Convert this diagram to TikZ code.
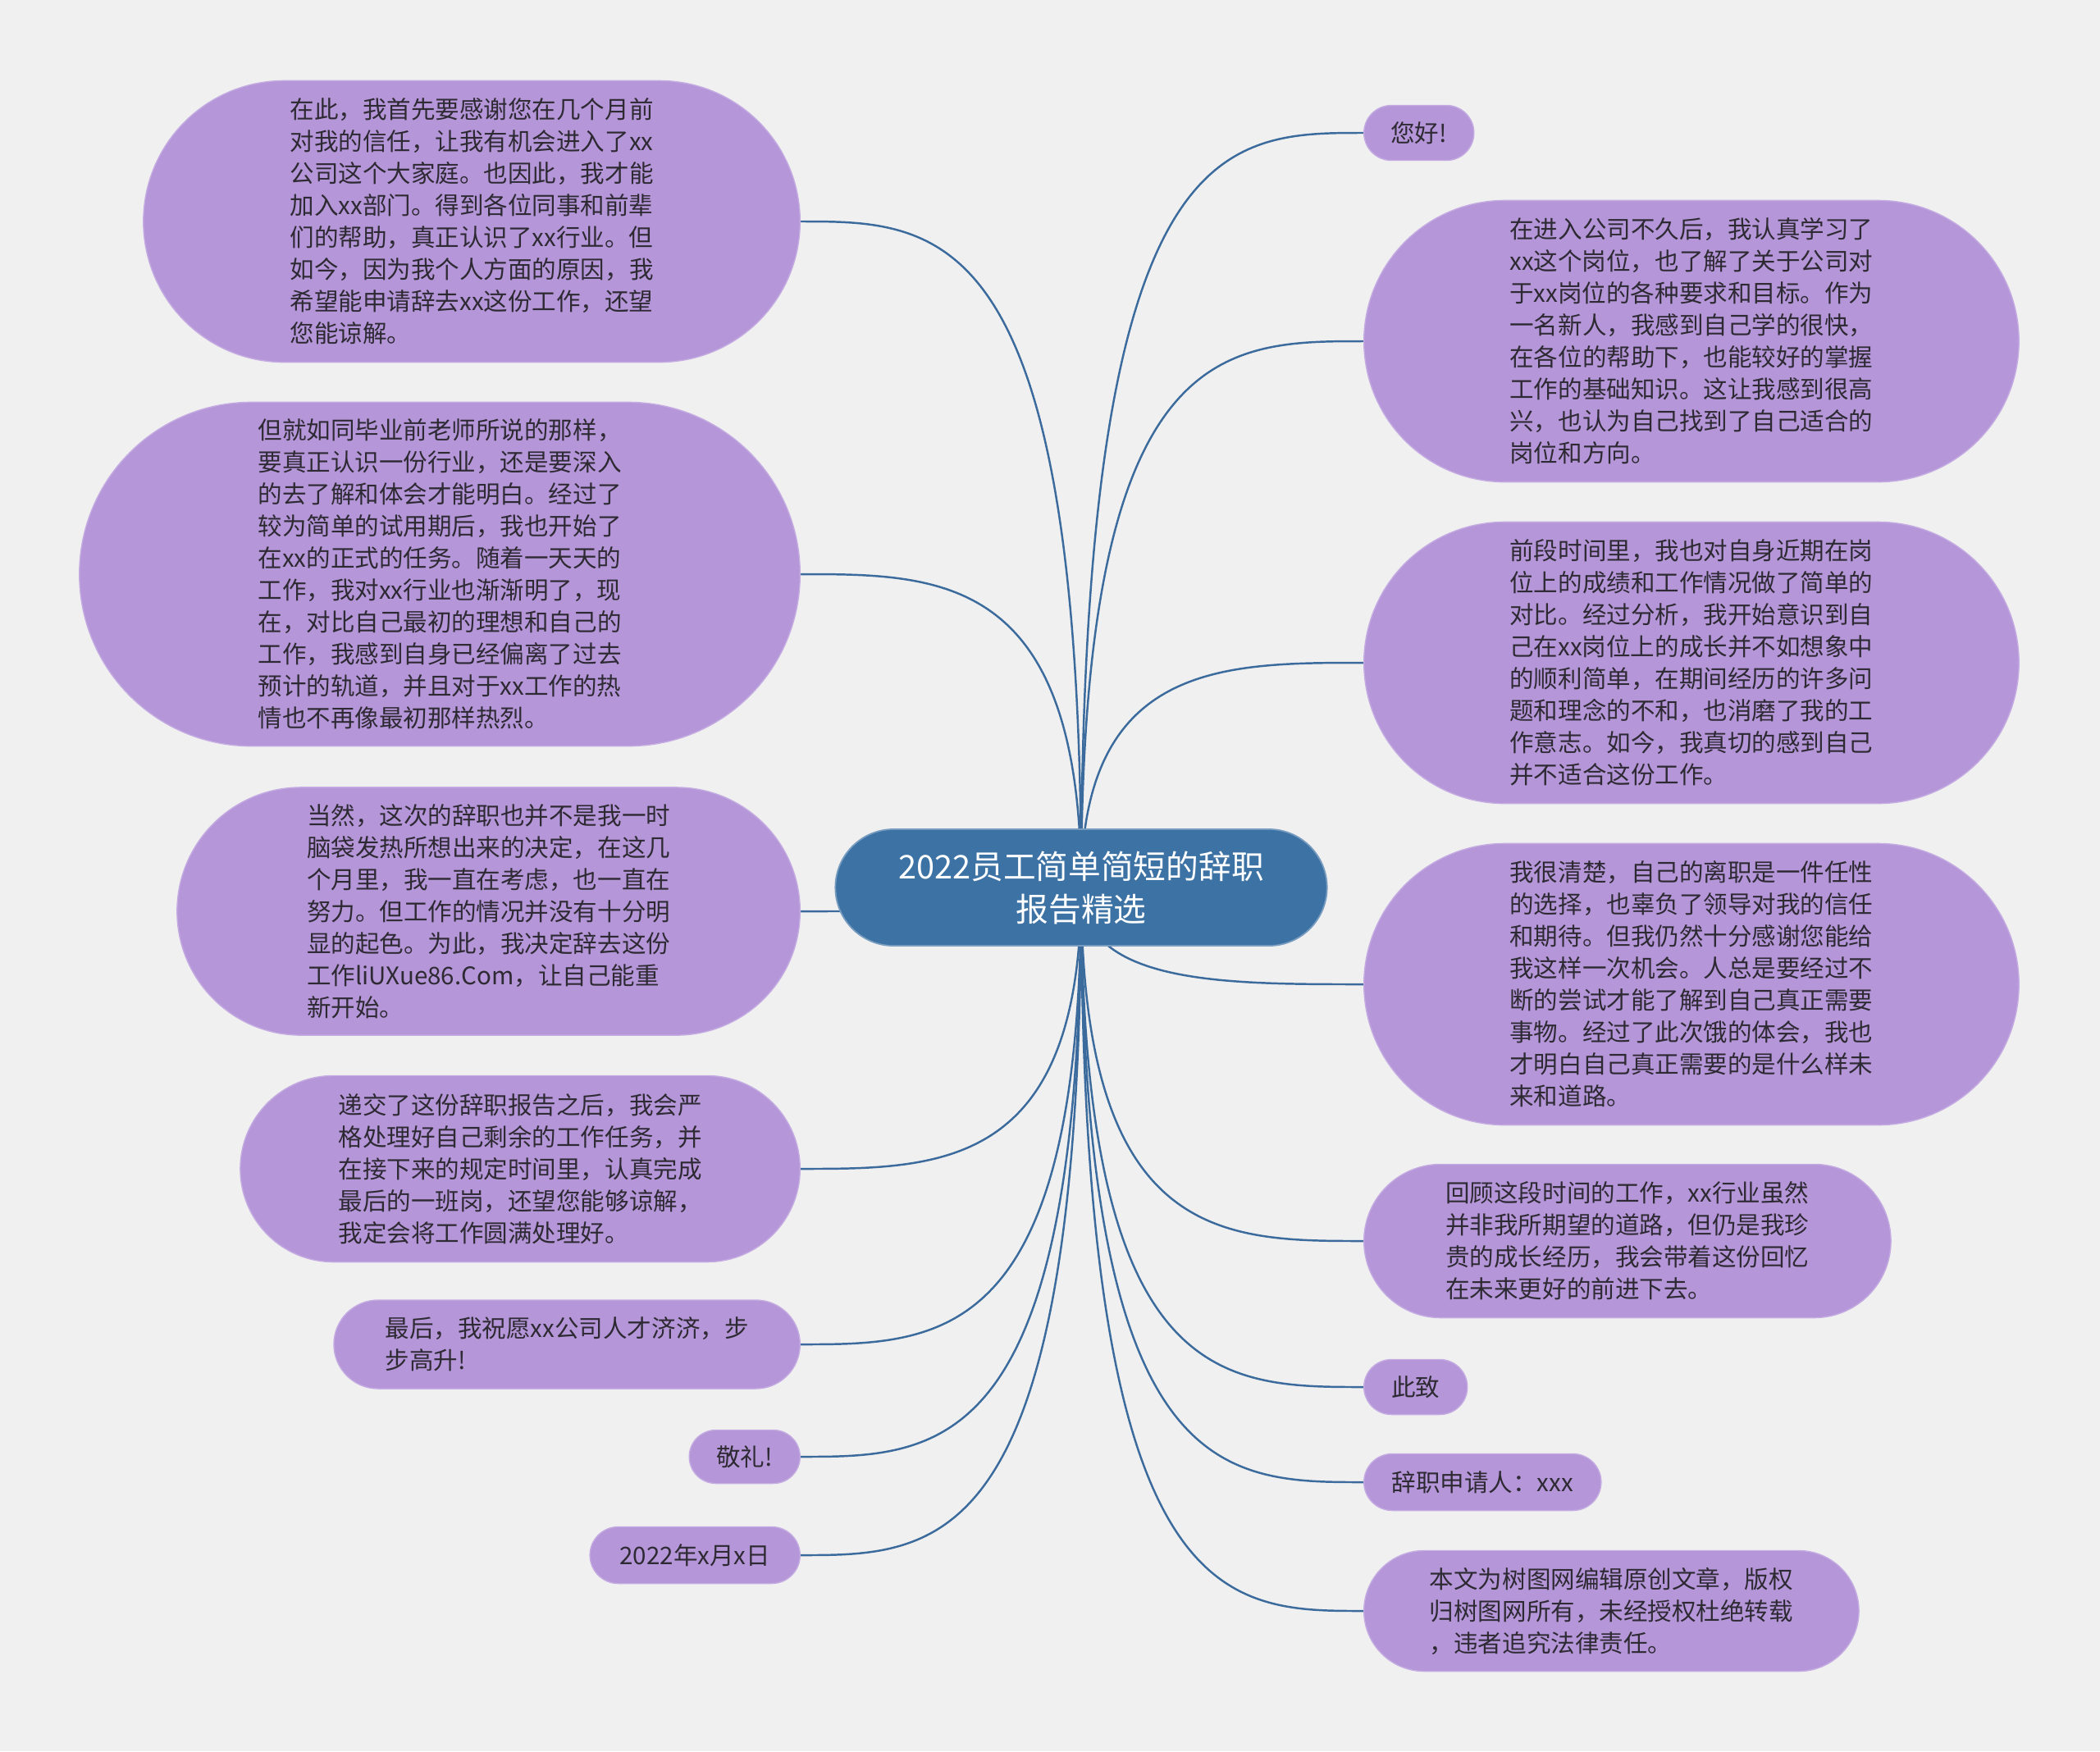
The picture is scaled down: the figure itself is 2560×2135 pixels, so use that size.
\documentclass[tikz,border=0pt]{standalone}
\usepackage{fontspec}
\setmainfont{Noto Sans CJK SC}
\usetikzlibrary{calc,shapes.misc}
\definecolor{bgc}{HTML}{F0F0F0}
\definecolor{leafc}{HTML}{B596D9}
\definecolor{rootc}{HTML}{3D72A4}
\definecolor{linkc}{HTML}{3B6A9C}
\definecolor{textc}{HTML}{2E2A33}
\pgfdeclarelayer{bg}
\pgfdeclarelayer{links}
\pgfsetlayers{bg,links,main}

\begin{document}
\begin{tikzpicture}[x=0.01cm, y=-0.01cm,
  leaf/.style={rounded rectangle, fill=leafc, draw=leafc!80!white, line width=0.4pt, inner sep=0pt, align=left, text=textc, font=\fontsize{8.4}{11.1}\selectfont},
  root/.style={rounded rectangle, fill=rootc, draw=rootc!70!white, line width=0.5pt, inner sep=0pt, align=center, text=white, font=\fontsize{11.3}{14.8}\selectfont},
  link/.style={draw=linkc, line width=0.7pt}]
\useasboundingbox (0,0) rectangle (2560,2135);
\begin{pgfonlayer}{bg}
  \fill[bgc] (0,0) rectangle (2560,2135);
\end{pgfonlayer}

% root
\node[root, minimum width=5.99cm, minimum height=1.42cm] (t) at (1318,1082) {2022员工简单简短的辞职\\报告精选};

% left side
\node[leaf, anchor=east, minimum width=8.00cm, minimum height=3.43cm] (l1) at (976,270) {在此，我首先要感谢您在几个月前\\对我的信任，让我有机会进入了xx\\公司这个大家庭。也因此，我才能\\加入xx部门。得到各位同事和前辈\\们的帮助，真正认识了xx行业。但\\如今，因为我个人方面的原因，我\\希望能申请辞去xx这份工作，还望\\您能谅解。};
\node[leaf, anchor=east, minimum width=8.78cm, minimum height=4.19cm] (l2) at (976,700) {但就如同毕业前老师所说的那样，\\要真正认识一份行业，还是要深入\\的去了解和体会才能明白。经过了\\较为简单的试用期后，我也开始了\\在xx的正式的任务。随着一天天的\\工作，我对xx行业也渐渐明了，现\\在，对比自己最初的理想和自己的\\工作，我感到自身已经偏离了过去\\预计的轨道，并且对于xx工作的热\\情也不再像最初那样热烈。};
\node[leaf, anchor=east, minimum width=7.59cm, minimum height=3.02cm] (l3) at (976,1111) {当然，这次的辞职也并不是我一时\\脑袋发热所想出来的决定，在这几\\个月里，我一直在考虑，也一直在\\努力。但工作的情况并没有十分明\\显的起色。为此，我决定辞去这份\\工作liUXue86.Com，让自己能重\\新开始。};
\node[leaf, anchor=east, minimum width=6.82cm, minimum height=2.27cm] (l4) at (976,1425) {递交了这份辞职报告之后，我会严\\格处理好自己剩余的工作任务，并\\在接下来的规定时间里，认真完成\\最后的一班岗，还望您能够谅解，\\我定会将工作圆满处理好。};
\node[leaf, anchor=east, minimum width=5.68cm, minimum height=1.08cm] (l5) at (976,1639) {最后，我祝愿xx公司人才济济，步\\步高升!};
\node[leaf, anchor=east, minimum width=1.35cm, minimum height=0.65cm] (l6) at (976,1776) {敬礼!};
\node[leaf, anchor=east, minimum width=2.56cm, minimum height=0.69cm] (l7) at (976,1896) {2022年x月x日};

% right side
\node[leaf, anchor=west, minimum width=1.34cm, minimum height=0.67cm] (r1) at (1662,162) {您好!};
\node[leaf, anchor=west, minimum width=7.98cm, minimum height=3.43cm] (r2) at (1662,416) {在进入公司不久后，我认真学习了\\xx这个岗位，也了解了关于公司对\\于xx岗位的各种要求和目标。作为\\一名新人，我感到自己学的很快，\\在各位的帮助下，也能较好的掌握\\工作的基础知识。这让我感到很高\\兴，也认为自己找到了自己适合的\\岗位和方向。};
\node[leaf, anchor=west, minimum width=7.98cm, minimum height=3.43cm] (r3) at (1662,808) {前段时间里，我也对自身近期在岗\\位上的成绩和工作情况做了简单的\\对比。经过分析，我开始意识到自\\己在xx岗位上的成长并不如想象中\\的顺利简单，在期间经历的许多问\\题和理念的不和，也消磨了我的工\\作意志。如今，我真切的感到自己\\并不适合这份工作。};
\node[leaf, anchor=west, minimum width=7.98cm, minimum height=3.43cm] (r4) at (1662,1200) {我很清楚，自己的离职是一件任性\\的选择，也辜负了领导对我的信任\\和期待。但我仍然十分感谢您能给\\我这样一次机会。人总是要经过不\\断的尝试才能了解到自己真正需要\\事物。经过了此次饿的体会，我也\\才明白自己真正需要的是什么样未\\来和道路。};
\node[leaf, anchor=west, minimum width=6.42cm, minimum height=1.87cm] (r5) at (1662,1513) {回顾这段时间的工作，xx行业虽然\\并非我所期望的道路，但仍是我珍\\贵的成长经历，我会带着这份回忆\\在未来更好的前进下去。};
\node[leaf, anchor=west, minimum width=1.26cm, minimum height=0.67cm] (r6) at (1662,1691) {此致};
\node[leaf, anchor=west, minimum width=2.89cm, minimum height=0.69cm] (r7) at (1662,1807) {辞职申请人：xxx};
\node[leaf, anchor=west, minimum width=6.03cm, minimum height=1.47cm] (r8) at (1662,1964) {本文为树图网编辑原创文章，版权\\归树图网所有，未经授权杜绝转载\\，违者追究法律责任。};

% links
\begin{pgfonlayer}{links}
  \foreach \n in {l1,l2,l3,l4,l5,l6,l7}
    \draw[link] (t.center) .. controls (t.center |- \n.east) and ($(t.center |- \n.east)!0.5!(\n.east)$) .. (\n.east);
  \foreach \n in {r1,r2,r3,r4,r5,r6,r7,r8}
    \draw[link] (t.center) .. controls (t.center |- \n.west) and ($(t.center |- \n.west)!0.5!(\n.west)$) .. (\n.west);
\end{pgfonlayer}
\end{tikzpicture}
\end{document}
